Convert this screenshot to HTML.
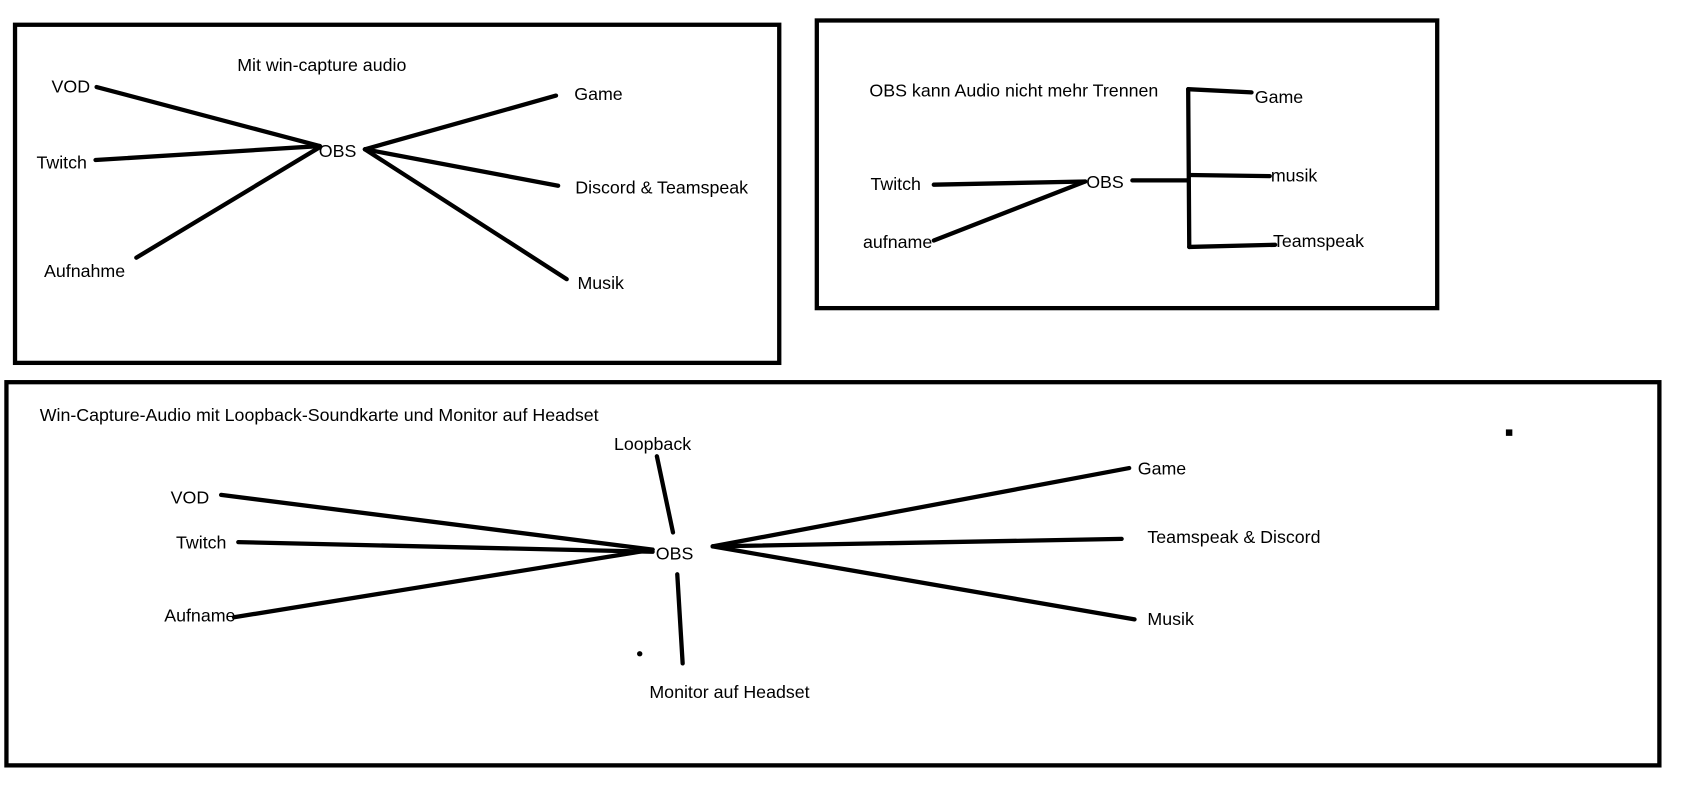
<!DOCTYPE html>
<html><head><style>html,body{margin:0;padding:0;background:#fff;overflow:hidden}svg{display:block}</style></head>
<body>
<svg width="1683" height="788" viewBox="0 0 1568 734" xmlns="http://www.w3.org/2000/svg" font-family="Liberation Sans, sans-serif" font-size="16.6" fill="#000">
<g fill="none" stroke="#000" stroke-width="4" stroke-linecap="round">
<rect x="14" y="23" width="712" height="315" stroke-linecap="butt"/>
<rect x="761" y="19" width="578" height="268" stroke-linecap="butt"/>
<rect x="6" y="356" width="1540" height="357" stroke-linecap="butt"/>
<line x1="90" y1="81" x2="298" y2="136"/>
<line x1="89" y1="149" x2="298" y2="136"/>
<line x1="127" y1="240" x2="298" y2="137"/>
<line x1="340" y1="139" x2="518" y2="89"/>
<line x1="340" y1="139" x2="520" y2="173"/>
<line x1="340" y1="139" x2="528" y2="260"/>
<line x1="870" y1="172" x2="1011" y2="169"/>
<line x1="870" y1="224" x2="1011" y2="169"/>
<line x1="1055" y1="168" x2="1107" y2="168"/>
<line x1="1107" y1="83" x2="1108" y2="230"/>
<line x1="1107" y1="83" x2="1166" y2="86"/>
<line x1="1108" y1="163" x2="1183" y2="164"/>
<line x1="1108" y1="230" x2="1188" y2="228"/>
<line x1="206" y1="461" x2="608" y2="512"/>
<line x1="222" y1="505" x2="608" y2="514"/>
<line x1="218" y1="575" x2="608" y2="512"/>
<line x1="612" y1="425" x2="627" y2="496"/>
<line x1="631" y1="535" x2="636" y2="618"/>
<line x1="664" y1="509" x2="1052" y2="436"/>
<line x1="664" y1="509" x2="1045" y2="502"/>
<line x1="664" y1="509" x2="1057" y2="577"/>
</g>
<rect x="1403" y="400" width="6" height="6"/>
<circle cx="596" cy="609" r="2.5"/>
<text x="221" y="66">Mit win-capture audio</text>
<text x="48" y="86">VOD</text>
<text x="34" y="157">Twitch</text>
<text x="41" y="258">Aufnahme</text>
<text x="297" y="146">OBS</text>
<text x="535" y="93">Game</text>
<text x="536" y="180">Discord &amp; Teamspeak</text>
<text x="538" y="269">Musik</text>
<text x="810" y="90">OBS kann Audio nicht mehr Trennen</text>
<text x="811" y="177">Twitch</text>
<text x="804" y="231">aufname</text>
<text x="1012" y="175">OBS</text>
<text x="1169" y="96">Game</text>
<text x="1184" y="169">musik</text>
<text x="1186" y="230">Teamspeak</text>
<text x="37" y="392">Win-Capture-Audio mit Loopback-Soundkarte und Monitor auf Headset</text>
<text x="572" y="419">Loopback</text>
<text x="159" y="469">VOD</text>
<text x="164" y="511">Twitch</text>
<text x="153" y="579">Aufname</text>
<text x="611" y="521">OBS</text>
<text x="605" y="650">Monitor auf Headset</text>
<text x="1060" y="442">Game</text>
<text x="1069" y="506">Teamspeak &amp; Discord</text>
<text x="1069" y="582">Musik</text>
</svg>
</body></html>
